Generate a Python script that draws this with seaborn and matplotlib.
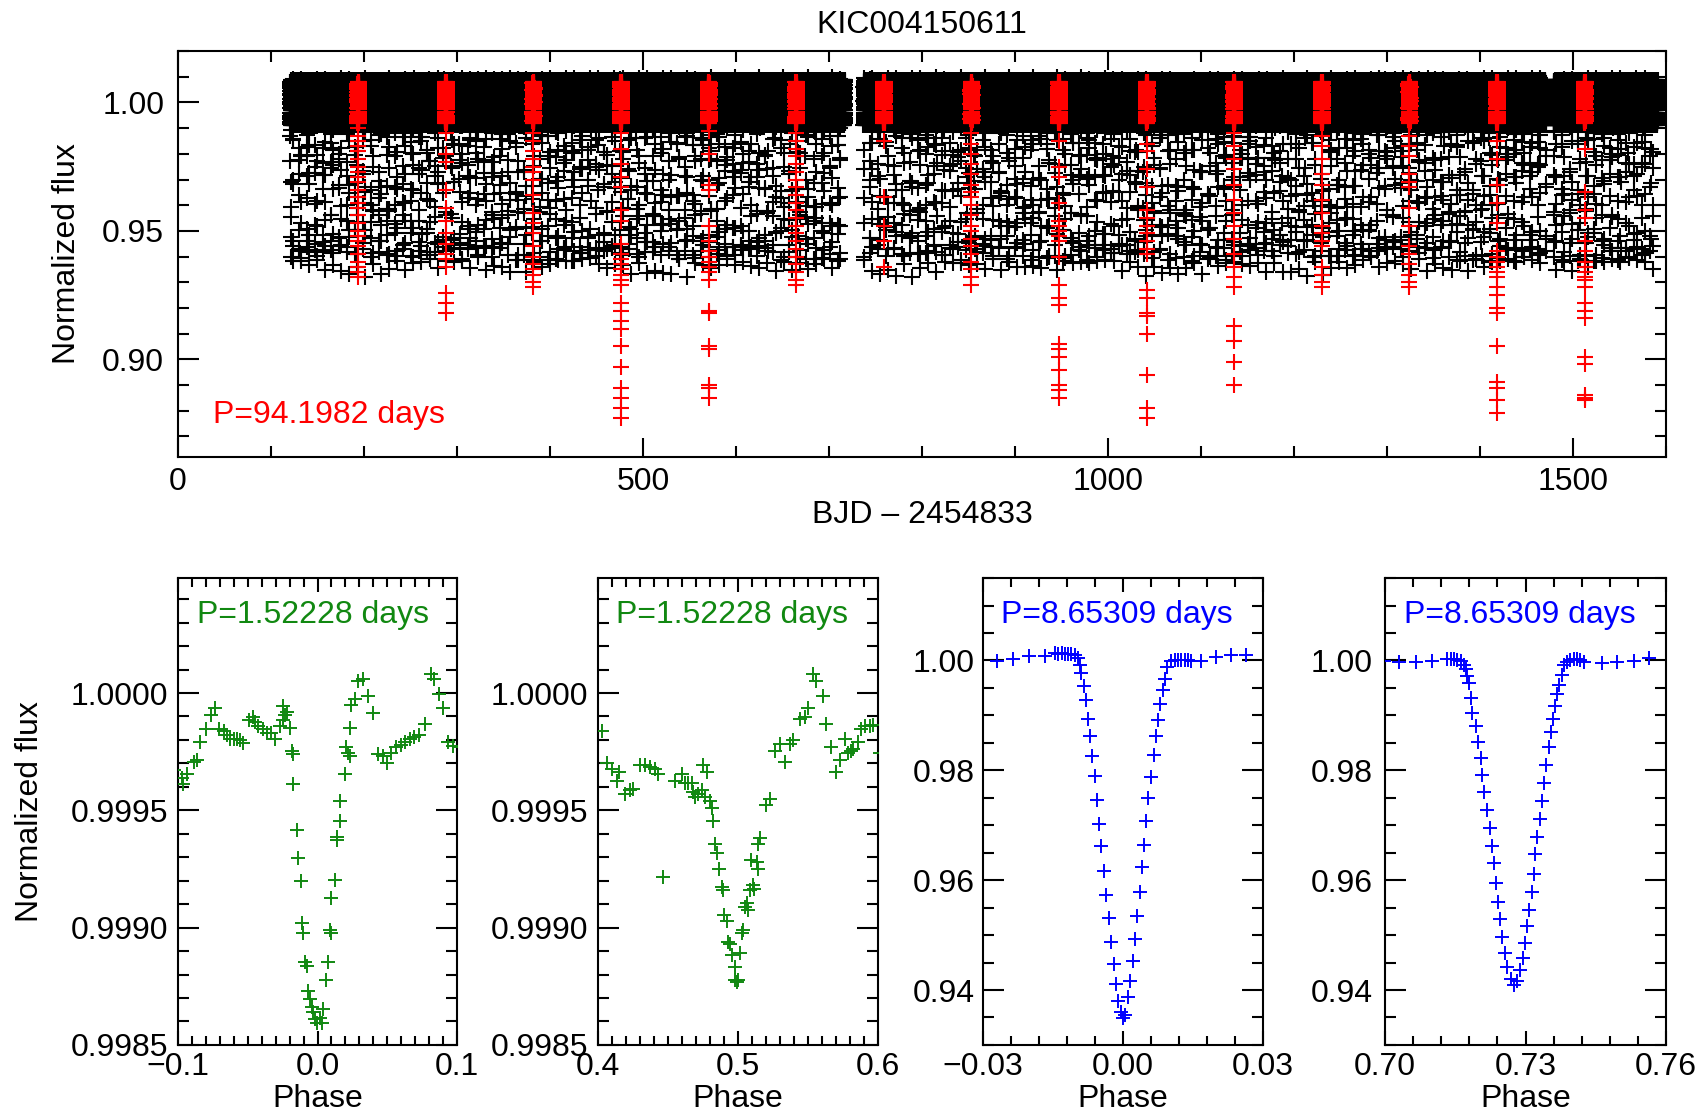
import numpy as np
import pandas as pd
import matplotlib
matplotlib.use("Agg")
import matplotlib.pyplot as plt
import seaborn as sns
from matplotlib.ticker import MultipleLocator, FixedLocator, FuncFormatter

# ---------------------------------------------------------------- data
title = "KIC004150611"
P_long = 94.1982          # days, red events
T0_long = 193.8           # first red event
P_ecl = 8.65309           # days, blue eclipsing binary
T0_ecl = 123.3            # reference epoch of primary eclipse
P_short = 1.52228         # days, green binary
cadence = 0.02043         # Kepler long cadence (days)

# observing windows read from the gaps in the upper light curve
windows_start = [120.5, 737.0, 1479.0]
windows_end = [717.0, 1471.0, 1591.0]

# spread of the out-of-eclipse band (estimated from its thickness)
band_scatter = [0.0000, 0.0063, -0.0057, 0.0032, -0.0077, 0.0070, -0.0022, 0.0045,
                -0.0066, 0.0078, -0.0040, 0.0015, -0.0082, 0.0083, -0.0050, 0.0055,
                -0.0008, 0.0036, -0.0072, 0.0051, -0.0030, 0.0087, -0.0061, 0.0021,
                -0.0080, 0.0068, -0.0015, 0.0006, -0.0087, 0.0060, 0.0026]

# fluxes of the red points below the band, one list per 94.2-day event
red_event_dips = [
    [0.990, 0.987, 0.985, 0.983, 0.981, 0.978, 0.975, 0.973, 0.971, 0.969, 0.966, 0.963, 0.961,
     0.959, 0.956, 0.953, 0.950, 0.948, 0.946, 0.944, 0.941, 0.938, 0.936, 0.934, 0.932],
    [0.988, 0.980, 0.977, 0.966, 0.959, 0.954, 0.949, 0.945, 0.941, 0.939, 0.936, 0.926, 0.922, 0.918],
    [0.988, 0.985, 0.981, 0.978, 0.975, 0.973, 0.970, 0.964, 0.957, 0.953, 0.949, 0.944, 0.940,
     0.937, 0.935, 0.933, 0.930, 0.928],
    [0.988, 0.982, 0.976, 0.971, 0.967, 0.958, 0.954, 0.945, 0.941, 0.939, 0.937, 0.935, 0.933,
     0.931, 0.929, 0.922, 0.919, 0.915, 0.912, 0.905, 0.897, 0.889, 0.885, 0.881, 0.877],
    [0.989, 0.980, 0.968, 0.966, 0.952, 0.946, 0.942, 0.940, 0.938, 0.936, 0.934, 0.931, 0.919,
     0.918, 0.905, 0.904, 0.890, 0.889, 0.885],
    [0.988, 0.985, 0.982, 0.979, 0.976, 0.973, 0.970, 0.967, 0.964, 0.961, 0.958, 0.955, 0.952,
     0.949, 0.946, 0.943, 0.940, 0.937, 0.934, 0.931, 0.929],
    [0.985, 0.963, 0.952, 0.946, 0.936],
    [0.988, 0.984, 0.980, 0.976, 0.972, 0.968, 0.965, 0.963, 0.960, 0.956, 0.952, 0.950, 0.947,
     0.944, 0.941, 0.938, 0.935, 0.932, 0.929],
    [0.985, 0.975, 0.971, 0.961, 0.954, 0.952, 0.950, 0.948, 0.946, 0.940, 0.929, 0.924, 0.921,
     0.906, 0.904, 0.901, 0.896, 0.890, 0.888, 0.885],
    [0.984, 0.981, 0.974, 0.967, 0.958, 0.955, 0.952, 0.949, 0.946, 0.943, 0.941, 0.927, 0.924,
     0.918, 0.917, 0.910, 0.894, 0.881, 0.877],
    [0.988, 0.983, 0.978, 0.974, 0.968, 0.962, 0.957, 0.952, 0.947, 0.941, 0.936, 0.932, 0.928,
     0.913, 0.907, 0.899, 0.890],
    [0.987, 0.983, 0.978, 0.972, 0.968, 0.962, 0.957, 0.952, 0.949, 0.946, 0.944, 0.936, 0.933,
     0.930, 0.928],
    [0.987, 0.983, 0.979, 0.972, 0.969, 0.967, 0.959, 0.952, 0.944, 0.941, 0.937, 0.933, 0.930, 0.928],
    [0.985, 0.978, 0.968, 0.961, 0.953, 0.942, 0.940, 0.938, 0.936, 0.934, 0.932, 0.928, 0.925,
     0.920, 0.918, 0.905, 0.891, 0.889, 0.884, 0.879],
    [0.982, 0.965, 0.958, 0.955, 0.946, 0.942, 0.938, 0.936, 0.934, 0.932, 0.931, 0.928, 0.922,
     0.919, 0.916, 0.901, 0.898, 0.886, 0.885, 0.884],
]

# panel 1: P=1.52228 d, primary
g1_phase = [-0.1031, -0.0971, -0.0964, -0.0936, -0.0888, -0.0864, -0.0840, -0.0798, -0.0764, -0.0733,
            -0.0710, -0.0674, -0.0650, -0.0626, -0.0602, -0.0579, -0.0555, -0.0536, -0.0495, -0.0460,
            -0.0448, -0.0424, -0.0388, -0.0364, -0.0336, -0.0305, -0.0269, -0.0250, -0.0245, -0.0233,
            -0.0221, -0.0198, -0.0186, -0.0179, -0.0174, -0.0150, -0.0138, -0.0121, -0.0114, -0.0102,
            -0.0090, -0.0074, -0.0067, -0.0055, -0.0043, -0.0031, -0.0019, -0.0007, 0.0017, 0.0029,
            0.0040, 0.0064, 0.0076, 0.0088, 0.0100, 0.0100, 0.0124, 0.0136, 0.0140, 0.0160,
            0.0164, 0.0195, 0.0207, 0.0219, 0.0231, 0.0231, 0.0243, 0.0267, 0.0290, 0.0326,
            0.0362, 0.0398, 0.0433, 0.0469, 0.0498, 0.0529, 0.0564, 0.0600, 0.0624, 0.0660,
            0.0695, 0.0731, 0.0767, 0.0814, 0.0838, 0.0874, 0.0898, 0.0933, 0.0969, 0.1012]
g1_flux = [0.999674, 0.999639, 0.999613, 0.999654, 0.999707, 0.999715, 0.999791, 0.999848, 0.999905, 0.999936,
           0.999848, 0.999837, 0.999819, 0.999806, 0.999802, 0.999802, 0.999799, 0.999788, 0.999883, 0.999898,
           0.999875, 0.999860, 0.999845, 0.999829, 0.999829, 0.999806, 0.999860, 0.999883, 0.999944, 0.999905,
           0.999921, 0.999852, 0.999753, 0.999741, 0.999613, 0.999418, 0.999296, 0.999197, 0.999021, 0.998976,
           0.998854, 0.998838, 0.998732, 0.998694, 0.998663, 0.998640, 0.998610, 0.998595, 0.998617, 0.998595,
           0.998655, 0.998777, 0.998854, 0.998991, 0.998976, 0.999128, 0.999204, 0.999372, 0.999387, 0.999456,
           0.999540, 0.999654, 0.999768, 0.999745, 0.999730, 0.999852, 0.999951, 0.999974, 1.000050, 1.000058,
           0.999989, 0.999913, 0.999738, 0.999730, 0.999700, 0.999745, 0.999768, 0.999780, 0.999791, 0.999806,
           0.999814, 0.999822, 0.999867, 1.000081, 1.000058, 0.999997, 0.999936, 0.999791, 0.999776, 0.999768]

# panel 2: P=1.52228 d, secondary
g2_phase = [0.4029, 0.4064, 0.4100, 0.4147, 0.4135, 0.4195, 0.4230, 0.4254, 0.4302, 0.4337,
            0.4373, 0.4409, 0.4432, 0.4468, 0.4551, 0.4599, 0.4622, 0.4646, 0.4670, 0.4682,
            0.4694, 0.4717, 0.4741, 0.4753, 0.4777, 0.4765, 0.4800, 0.4812, 0.4824, 0.4836,
            0.4848, 0.4867, 0.4884, 0.4895, 0.4900, 0.4919, 0.4931, 0.4943, 0.4955, 0.4979,
            0.4979, 0.4990, 0.5002, 0.5014, 0.5026, 0.5038, 0.5050, 0.5062, 0.5074, 0.5086,
            0.5109, 0.5116, 0.5097, 0.5133, 0.5145, 0.5145, 0.5157, 0.5204, 0.5228, 0.5264,
            0.5299, 0.5335, 0.5371, 0.5394, 0.5442, 0.5477, 0.5501, 0.5537, 0.5561, 0.5608,
            0.5632, 0.5667, 0.5698, 0.5727, 0.5762, 0.5786, 0.5810, 0.5822, 0.5857, 0.5881,
            0.5905, 0.5941, 0.5964, 0.6012]
g2_flux = [0.999837, 0.999700, 0.999677, 0.999662, 0.999623, 0.999570, 0.999585, 0.999593, 0.999695, 0.999692,
           0.999684, 0.999677, 0.999654, 0.999216, 0.999623, 0.999654, 0.999616, 0.999616, 0.999616, 0.999578,
           0.999555, 0.999570, 0.999585, 0.999692, 0.999662, 0.999555, 0.999540, 0.999509, 0.999456, 0.999357,
           0.999319, 0.999250, 0.999174, 0.999159, 0.999052, 0.999029, 0.998938, 0.998930, 0.998884, 0.998831,
           0.998777, 0.998770, 0.998777, 0.998892, 0.998976, 0.998991, 0.999090, 0.999105, 0.999075, 0.999159,
           0.999181, 0.999166, 0.999288, 0.999280, 0.999250, 0.999357, 0.999380, 0.999524, 0.999547, 0.999753,
           0.999784, 0.999707, 0.999784, 0.999799, 0.999890, 0.999898, 0.999936, 1.000081, 1.000050, 0.999989,
           0.999867, 0.999768, 0.999662, 0.999715, 0.999806, 0.999745, 0.999753, 0.999761, 0.999791, 0.999845,
           0.999860, 0.999860, 0.999863, 0.999745]

# panel 3: P=8.65309 d, primary
b1_phase = [-0.02708, -0.02352, -0.02009, -0.01675, -0.01461, -0.01390, -0.01318, -0.01247, -0.01176, -0.01105,
            -0.01033, -0.00962, -0.00926, -0.00891, -0.00841, -0.00784, -0.00748, -0.00713, -0.00663, -0.00606,
            -0.00549, -0.00520, -0.00463, -0.00406, -0.00356, -0.00306, -0.00249, -0.00200, -0.00157, -0.00107,
            -0.00036, 0.00000, 0.00036, 0.00107, 0.00157, 0.00214, 0.00264, 0.00306, 0.00356, 0.00399,
            0.00442, 0.00499, 0.00534, 0.00606, 0.00656, 0.00698, 0.00748, 0.00798, 0.00855, 0.00891,
            0.00941, 0.01033, 0.01105, 0.01176, 0.01247, 0.01318, 0.01390, 0.01461, 0.01675, 0.01995,
            0.02316, 0.02637]
b1_flux = [0.99981, 1.00032, 1.00078, 1.00078, 1.00130, 1.00123, 1.00130, 1.00117, 1.00123, 1.00110,
           1.00091, 1.00045, 0.99916, 0.99766, 0.99526, 0.99279, 0.98942, 0.98617, 0.98260, 0.97890,
           0.97461, 0.97026, 0.96623, 0.96169, 0.95727, 0.95305, 0.94883, 0.94474, 0.94104, 0.93799,
           0.93597, 0.93487, 0.93552, 0.93877, 0.94169, 0.94526, 0.94935, 0.95351, 0.95779, 0.96234,
           0.96649, 0.97071, 0.97494, 0.97883, 0.98273, 0.98623, 0.98922, 0.99201, 0.99461, 0.99656,
           0.99883, 0.99981, 1.00000, 1.00006, 1.00006, 1.00006, 1.00000, 0.99994, 0.99994, 1.00065,
           1.00091, 1.00091]

# panel 4: P=8.65309 d, secondary
b2_phase = [0.69979, 0.70299, 0.70654, 0.70995, 0.71329, 0.71400, 0.71472, 0.71543, 0.71614, 0.71685,
            0.71720, 0.71756, 0.71792, 0.71827, 0.71863, 0.71934, 0.71991, 0.72040, 0.72076, 0.72118,
            0.72182, 0.72232, 0.72275, 0.72325, 0.72374, 0.72417, 0.72453, 0.72502, 0.72559, 0.72609,
            0.72680, 0.72751, 0.72822, 0.72893, 0.72943, 0.72986, 0.73036, 0.73071, 0.73128, 0.73178,
            0.73213, 0.73249, 0.73299, 0.73355, 0.73391, 0.73441, 0.73498, 0.73548, 0.73583, 0.73626,
            0.73676, 0.73711, 0.73782, 0.73818, 0.73889, 0.73960, 0.74031, 0.74102, 0.74173, 0.74244,
            0.74635, 0.74955, 0.75310, 0.75630]
b2_flux = [0.99987, 0.99974, 0.99974, 0.99994, 1.00026, 1.00019, 1.00019, 1.00013, 0.99994, 0.99909,
           0.99844, 0.99714, 0.99584, 0.99312, 0.99052, 0.98805, 0.98513, 0.98221, 0.97909, 0.97604,
           0.97279, 0.96955, 0.96630, 0.96305, 0.95948, 0.95610, 0.95286, 0.94974, 0.94682, 0.94422,
           0.94195, 0.94097, 0.94162, 0.94357, 0.94584, 0.94857, 0.95169, 0.95461, 0.95786, 0.96110,
           0.96468, 0.96792, 0.97117, 0.97442, 0.97766, 0.98091, 0.98416, 0.98695, 0.98935, 0.99162,
           0.99390, 0.99552, 0.99727, 0.99909, 0.99974, 1.00013, 1.00019, 1.00019, 1.00006, 0.99974,
           0.99961, 0.99974, 0.99987, 1.00039]

# ---------------------------------------------------------------- derived light curve
t = np.concatenate([np.arange(s, e, cadence) for s, e in zip(windows_start, windows_end)])
offs = np.resize(np.array(band_scatter), t.size)
ph = ((t - T0_ecl) / P_ecl) % 1.0
ph_c = np.where(ph > 0.5, ph - 1.0, ph)
o1 = np.argsort(b1_phase)
o2 = np.argsort(b2_phase)
f_pri = np.interp(ph_c, np.array(b1_phase)[o1], np.array(b1_flux)[o1], left=1.0, right=1.0)
f_sec = np.interp(ph, np.array(b2_phase)[o2], np.array(b2_flux)[o2], left=1.0, right=1.0)
model = f_pri * f_sec
flux = model + offs * np.where(model < 0.995, 0.35, 1.0)
lc = pd.DataFrame({"t": t, "flux": flux})

events = T0_long + P_long * np.arange(len(red_event_dips))
in_win = np.zeros(t.size, bool)
for ev in events:
    in_win |= np.abs(t - ev) < 1.2
red_band = pd.DataFrame({"t": t[in_win], "flux": 1.0 + 0.9 * offs[in_win]})
red_dips = pd.DataFrame({
    "t": np.concatenate([np.full(len(d), ev) for d, ev in zip(red_event_dips, events)]),
    "flux": np.concatenate([np.array(d) for d in red_event_dips]),
})

# ---------------------------------------------------------------- style
sns.set_theme(style="ticks")
plt.rcParams.update({
    "font.family": ["Liberation Sans", "DejaVu Sans"],
    "font.size": 23,
    "axes.linewidth": 1.5,
    "axes.edgecolor": "black",
    "axes.labelcolor": "black",
    "text.color": "black",
    "xtick.color": "black",
    "ytick.color": "black",
    "xtick.direction": "in",
    "ytick.direction": "in",
    "xtick.top": True,
    "ytick.right": True,
    "xtick.labelsize": 23,
    "ytick.labelsize": 23,
    "axes.labelsize": 23,
})

GREEN = "#118811"
BLUE = "#0000ff"
RED = "#ff0000"


def umin(fmt):
    def f(v, pos):
        s = fmt.format(v)
        if s.startswith("-") and float(s) == 0.0:
            s = s[1:]
        return s.replace("-", "\u2212")
    return FuncFormatter(f)


def style_ticks(ax, xl=(10, 6.5), yl=(15, 7.7), xpad=3, ypad=7):
    ax.tick_params(axis="x", which="major", length=xl[0], width=1.5, pad=xpad, top=True, bottom=True)
    ax.tick_params(axis="x", which="minor", length=xl[1], width=1.5, top=True, bottom=True)
    ax.tick_params(axis="y", which="major", length=yl[0], width=1.5, pad=ypad, left=True, right=True)
    ax.tick_params(axis="y", which="minor", length=yl[1], width=1.5, left=True, right=True)
    for s in ax.spines.values():
        s.set_linewidth(1.5)
        s.set_color("black")


fig = plt.figure(figsize=(17.04, 11.17), dpi=100)

# ---------------------------------------------------------------- top panel
ax0 = fig.add_axes([0.1045, 0.5909, 0.8732, 0.3634])
sns.scatterplot(data=lc, x="t", y="flux", ax=ax0, marker="+", color="black",
                s=117, linewidth=1.5, legend=False, zorder=2)
sns.scatterplot(data=red_band, x="t", y="flux", ax=ax0, marker="+", color=RED,
                s=117, linewidth=1.5, legend=False, zorder=3)
sns.scatterplot(data=red_dips, x="t", y="flux", ax=ax0, marker="+", color=RED,
                s=117, linewidth=1.5, legend=False, zorder=3)
ax0.set_xlim(0, 1600)
ax0.set_ylim(0.862, 1.020)
ax0.xaxis.set_major_locator(MultipleLocator(500))
ax0.xaxis.set_minor_locator(MultipleLocator(100))
ax0.yaxis.set_major_locator(MultipleLocator(0.05))
ax0.yaxis.set_minor_locator(MultipleLocator(0.01))
ax0.xaxis.set_major_formatter(umin("{:.0f}"))
ax0.yaxis.set_major_formatter(umin("{:.2f}"))
style_ticks(ax0, xl=(14, 8), yl=(15, 8), xpad=7, ypad=10)
ax0.set_xlabel("BJD \u2013 2454833")
ax0.set_ylabel("Normalized flux")
ax0.xaxis.set_label_coords(0.5, -0.143)
ax0.xaxis.label.set_va("center")
ax0.yaxis.set_label_coords(-0.0746, 0.5)
ax0.yaxis.label.set_va("center")
ax0.text(0.0235, 0.103, f"P={P_long} days", transform=ax0.transAxes, color=RED,
         ha="left", va="center", fontsize=23)
fig.text(0.541, 1 - 25 / 1117, title, ha="center", va="center", fontsize=23)

# ---------------------------------------------------------------- bottom panels
bottom, height = 0.0645, 0.418
panels = [
    dict(left=0.1045, width=0.1637, x=g1_phase, y=g1_flux, color=GREEN, xlim=(-0.1, 0.1),
         ylim=(0.9985, 1.00049), xt=[-0.1, 0.0, 0.1], xminor=0.01, ymaj=0.0005, ymin=0.0001,
         yfmt="{:.4f}", xfmt="{:.1f}", label=f"P={P_short} days", tx=0.067, ypad=7),
    dict(left=0.3509, width=0.1643, x=g2_phase, y=g2_flux, color=GREEN, xlim=(0.4, 0.6),
         ylim=(0.9985, 1.00049), xt=[0.4, 0.5, 0.6], xminor=0.01, ymaj=0.0005, ymin=0.0001,
         yfmt="{:.4f}", xfmt="{:.1f}", label=f"P={P_short} days", tx=0.065, ypad=7),
    dict(left=0.5769, width=0.1643, x=b1_phase, y=b1_flux, color=BLUE, xlim=(-0.03, 0.03),
         ylim=(0.930, 1.015), xt=[-0.03, 0.0, 0.03], xminor=0.006, ymaj=0.02, ymin=0.005,
         yfmt="{:.2f}", xfmt="{:.2f}", label=f"P={P_ecl} days", tx=0.064, ypad=6),
    dict(left=0.8128, width=0.1649, x=b2_phase, y=b2_flux, color=BLUE, xlim=(0.70, 0.76),
         ylim=(0.930, 1.015), xt=[0.70, 0.73, 0.76], xminor=0.006, ymaj=0.02, ymin=0.005,
         yfmt="{:.2f}", xfmt="{:.2f}", label=f"P={P_ecl} days", tx=0.068, ypad=9),
]

for i, p in enumerate(panels):
    ax = fig.add_axes([p["left"], bottom, p["width"], height])
    df = pd.DataFrame({"phase": p["x"], "flux": p["y"]})
    sns.scatterplot(data=df, x="phase", y="flux", ax=ax, marker="+", color=p["color"],
                    s=105, linewidth=1.4, legend=False, zorder=3)
    ax.set_xlim(*p["xlim"])
    ax.set_ylim(*p["ylim"])
    ax.xaxis.set_major_locator(FixedLocator(p["xt"]))
    x0, x1 = p["xlim"]
    nminor = int(round((x1 - x0) / p["xminor"]))
    ax.xaxis.set_minor_locator(FixedLocator([x0 + k * p["xminor"] for k in range(nminor + 1)]))
    ax.yaxis.set_major_locator(MultipleLocator(p["ymaj"]))
    ax.yaxis.set_minor_locator(MultipleLocator(p["ymin"]))
    ax.xaxis.set_major_formatter(umin(p["xfmt"]))
    ax.yaxis.set_major_formatter(umin(p["yfmt"]))
    style_ticks(ax, xl=(10, 6.5), yl=(15, 7.7), xpad=5, ypad=p["ypad"])
    ax.set_xlabel("Phase")
    ax.xaxis.set_label_coords(0.5, -0.1156)
    ax.xaxis.label.set_va("center")
    if i == 0:
        ax.set_ylabel("Normalized flux")
        ax.yaxis.set_label_coords(-0.53, 0.5)
        ax.yaxis.label.set_va("center")
    else:
        ax.set_ylabel("")
    ax.text(p["tx"], 0.921, p["label"], transform=ax.transAxes, color=p["color"],
            ha="left", va="center", fontsize=23)

fig.savefig("out.png", dpi=100)
